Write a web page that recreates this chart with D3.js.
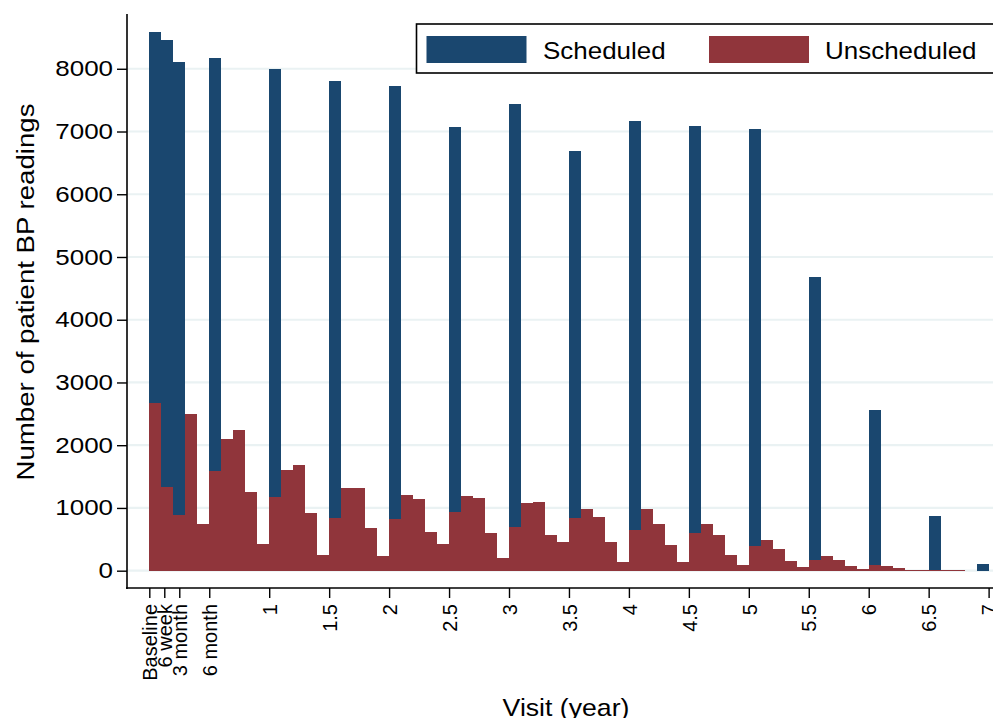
<!DOCTYPE html>
<html>
<head>
<meta charset="utf-8">
<script src="https://cdn.jsdelivr.net/npm/d3@7"></script>
<style>
  html, body { margin: 0; padding: 0; background: #ffffff; }
  svg { display: block; }
  text { font-family: "Liberation Sans", Arial, Helvetica, sans-serif; fill: #000; }
</style>
</head>
<body>
<svg id="chart" width="993" height="718"></svg>
<script>
// ---- Data ----
const binWidth = 0.1; // histogram bin width in years

// Scheduled visits: bin start (years) and counts
const scheduledBins = [0, 0.1, 0.2, 0.5, 1, 1.5, 2, 2.5, 3, 3.5, 4, 4.5, 5, 5.5, 6, 6.5, 6.9];
const scheduledCounts = [8590, 8460, 8110, 8172, 7992, 7810, 7726, 7072, 7439, 6690, 7175, 7082, 7034, 4681, 2561, 872, 107];

// Unscheduled visits: counts per 0.1-year bin, starting at 0
const unscheduledCounts = [
  2679, 1337, 888, 2503, 745, 1593, 2104, 2248, 1257, 425,
  1175, 1608, 1688, 922, 250, 841, 1321, 1321, 681, 236,
  826, 1209, 1146, 617, 425, 937, 1192, 1160, 601, 201,
  697, 1081, 1097, 570, 458, 841, 985, 857, 458, 138,
  650, 985, 745, 409, 138, 601, 745, 570, 250, 91,
  393, 489, 345, 154, 59, 171, 234, 171, 75, 27,
  91, 75, 43, 11, 11, 11, 11, 5, 0, 0
];

const xTickValues = [0, 0.125, 0.25, 0.5, 1, 1.5, 2, 2.5, 3, 3.5, 4, 4.5, 5, 5.5, 6, 6.5, 7];
const xTickLabels = ["Baseline", "6 week", "3 month", "6 month", "1", "1.5", "2", "2.5", "3", "3.5", "4", "4.5", "5", "5.5", "6", "6.5", "7"];
const yTickValues = [0, 1000, 2000, 3000, 4000, 5000, 6000, 7000, 8000];

const seriesNames = ["Scheduled", "Unscheduled"];
const seriesColors = ["#1a476f", "#90353b"];

// ---- Layout ----
const svg = d3.select("#chart");
const plotLeft = 127, plotRight = 993, plotTop = 14, plotBottom = 588;

const x = d3.scaleLinear().domain([-0.186, 7.0366]).range([plotLeft, plotRight]);
const y = d3.scaleLinear().domain([-276, 8873]).range([plotBottom, plotTop]);

// gridlines
svg.append("g").selectAll("line").data(yTickValues).join("line")
  .attr("x1", plotLeft + 1).attr("x2", plotRight)
  .attr("y1", d => y(d)).attr("y2", d => y(d))
  .attr("stroke", "#eaf2f3").attr("stroke-width", 2.2);

// scheduled bars
svg.append("g").selectAll("rect").data(scheduledBins).join("rect")
  .attr("x", d => x(d))
  .attr("width", d => x(d + binWidth) - x(d))
  .attr("y", (d, i) => y(scheduledCounts[i]))
  .attr("height", (d, i) => y(0) - y(scheduledCounts[i]))
  .attr("fill", seriesColors[0])
  .attr("shape-rendering", "crispEdges");

// unscheduled bars
svg.append("g").selectAll("rect").data(unscheduledCounts).join("rect")
  .attr("x", (d, i) => x(i * binWidth))
  .attr("width", (d, i) => x((i + 1) * binWidth) - x(i * binWidth))
  .attr("y", d => y(d))
  .attr("height", d => y(0) - y(d))
  .attr("fill", seriesColors[1])
  .attr("shape-rendering", "crispEdges");

// axes
const yStretch = 1.18;
const yAxis = d3.axisLeft(y).tickValues(yTickValues).tickSize(10).tickPadding(4).tickFormat(d3.format("d"));
const gy = svg.append("g").attr("transform", `translate(${plotLeft},0)`).call(yAxis);
gy.select(".domain").remove();
gy.append("line").attr("x1", 0).attr("x2", 0).attr("y1", plotTop).attr("y2", plotBottom + 1)
  .attr("stroke", "#000").attr("stroke-width", 1.6);
gy.selectAll(".tick line").attr("stroke", "#000").attr("stroke-width", 1.4);
gy.selectAll(".tick text").attr("font-size", 22).attr("font-family", "Liberation Sans, Arial, sans-serif").attr("fill", "#000")
  .attr("x", -14 / yStretch).attr("transform", `scale(${yStretch},1)`);

const xAxis = d3.axisBottom(x).tickValues(xTickValues).tickSize(10)
  .tickFormat((d, i) => xTickLabels[i]);
const gx = svg.append("g").attr("transform", `translate(0,${plotBottom})`).call(xAxis);
gx.select(".domain").remove();
gx.append("line").attr("x1", plotLeft - 1).attr("x2", plotRight).attr("y1", 0).attr("y2", 0)
  .attr("stroke", "#000").attr("stroke-width", 1.6);
gx.selectAll(".tick line").attr("stroke", "#000").attr("stroke-width", 1.4);
gx.selectAll(".tick text")
  .attr("font-size", 20).attr("font-family", "Liberation Sans, Arial, sans-serif").attr("fill", "#000")
  .attr("text-anchor", "end")
  .attr("transform", "rotate(-90)")
  .attr("x", -16).attr("y", 0).attr("dy", "0.36em");

// axis titles (slightly widened, like the reference's rendering)
svg.append("text")
  .attr("transform", "translate(34,292) rotate(-90) scale(1.15,1)")
  .attr("text-anchor", "middle")
  .attr("font-size", 24)
  .text("Number of patient BP readings");

svg.append("text")
  .attr("transform", "translate(566,716) scale(1.11,1)")
  .attr("text-anchor", "middle")
  .attr("font-size", 24)
  .text("Visit (year)");

// legend
const lg = svg.append("g");
lg.append("rect").attr("x", 416.5).attr("y", 24).attr("width", 600).attr("height", 49)
  .attr("fill", "#fff").attr("stroke", "#000").attr("stroke-width", 1.6);
const legendSwatchX = [426.5, 709];
const legendTextX = [543, 825];
seriesNames.forEach((name, i) => {
  lg.append("rect").attr("x", legendSwatchX[i]).attr("y", 36).attr("width", 100).attr("height", 27)
    .attr("fill", seriesColors[i]);
  lg.append("text").attr("transform", `translate(${legendTextX[i]},59) scale(1.06,1)`)
    .attr("font-size", 24.5).text(name);
});
</script>
</body>
</html>
